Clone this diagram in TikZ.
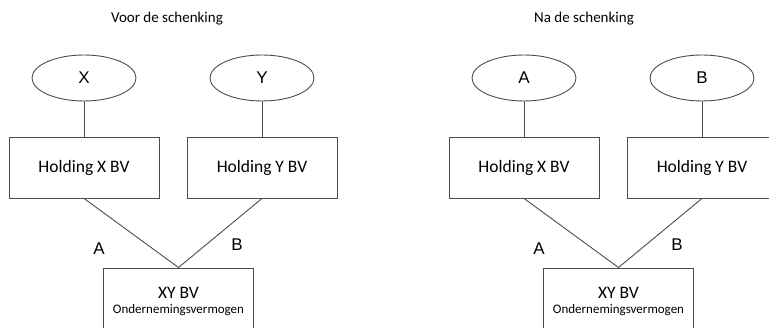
\documentclass[tikz,border=0pt]{standalone}
\usepackage{fontspec}
\setmainfont{Carlito}
\newfontfamily\arialfont{Liberation Sans}
\usetikzlibrary{shapes}
\tikzstyle{owner}=[ellipse,draw=black!70,line width=0.9pt,minimum width=104pt,minimum height=46pt,inner sep=0pt,font=\arialfont\fontsize{17}{20}\selectfont]
\tikzstyle{company}=[rectangle,draw=black!70,line width=0.9pt,minimum width=150pt,minimum height=61pt,inner sep=0pt,font=\fontsize{17.5}{21}\selectfont]
\tikzstyle{edge} = [draw,black!70,line width=0.9pt]
\tikzstyle{share} = [font=\arialfont\fontsize{17}{20}\selectfont]
\tikzstyle{heading} = [font=\fontsize{15}{18}\selectfont]

\begin{document}
\begin{tikzpicture}[x=1pt,y=-1pt]

    \useasboundingbox (0,0) rectangle (769,328);
    \clip (0,0) rectangle (769,328);

    \def\dx{0};

    \node[heading] (title) at (167,19) {Voor de schenking};

     \foreach \x/\name/\txt in {84/p/X, 262/q/Y}
        \node[owner] (\name) at (\x+\dx, 78) {\txt};

     \foreach \x/\name/\txt in {84/hx/X, 262/hy/Y}
        \node[company] (\name) at (\x+\dx, 167.5) {Holding \txt\ BV};

     \node[company, align=center, minimum height=67pt] (xy) at (178.5+\dx, 301.5)
        {XY BV\\[-6pt]{\fontsize{13}{15}\selectfont Ondernemingsvermogen}};

    \foreach \source/ \dest in {p/hx, q/hy}
        \path[edge] (\source.south) -- (\dest.north);

    \foreach \source in {hx, hy}
        \path[edge] (\source.south) -- (xy.north);

     \node[share] (la) at (99+\dx, 249) {A};
     \node[share] (lb) at (237+\dx, 245) {B};


    \def\dx{440};

    \node[heading] (title) at (584,19) {Na de schenking};

     \foreach \x/\name/\txt in {84/p/A, 262/q/B}
        \node[owner] (\name) at (\x+\dx, 78) {\txt};

     \foreach \x/\name/\txt in {84/hx/X, 262/hy/Y}
        \node[company] (\name) at (\x+\dx, 167.5) {Holding \txt\ BV};

     \node[company, align=center, minimum height=67pt] (xy) at (178.5+\dx, 301.5)
        {XY BV\\[-6pt]{\fontsize{13}{15}\selectfont Ondernemingsvermogen}};

    \foreach \source/ \dest in {p/hx, q/hy}
        \path[edge] (\source.south) -- (\dest.north);

    \foreach \source in {hx, hy}
        \path[edge] (\source.south) -- (xy.north);

     \node[share] (la) at (99+\dx, 249) {A};
     \node[share] (lb) at (237+\dx, 245) {B};

\end{tikzpicture}
\end{document}
